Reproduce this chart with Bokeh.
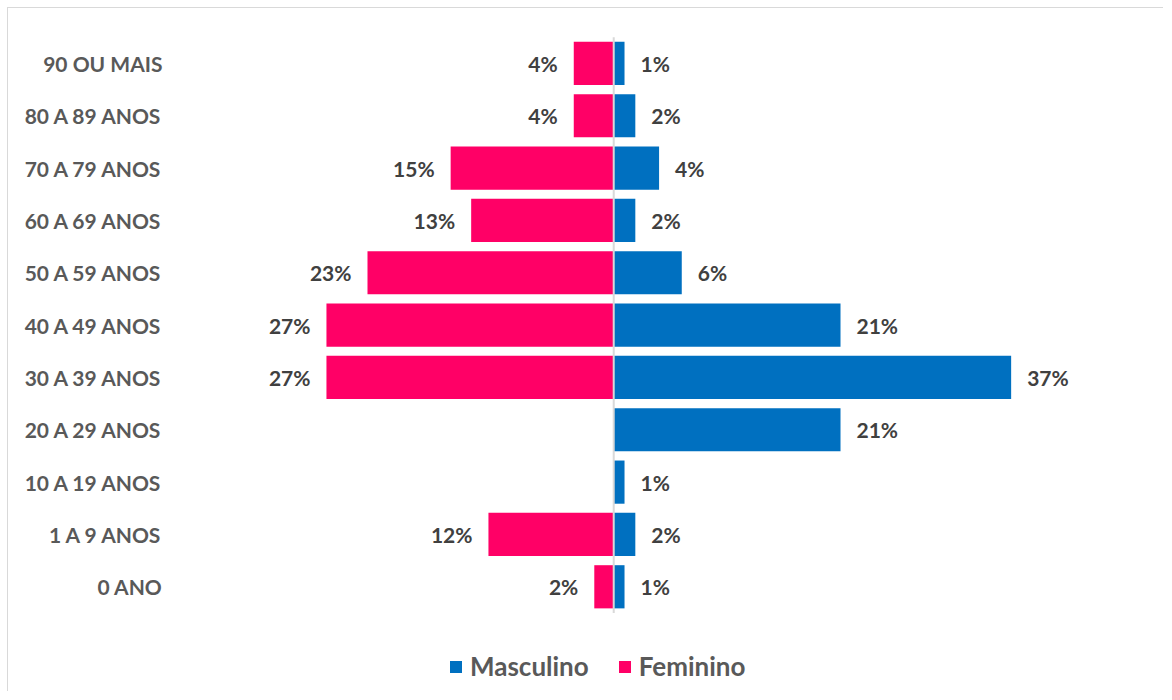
from bokeh.plotting import figure
from bokeh.models import ColumnDataSource, Range1d, FixedTicker, Legend, LegendItem
from bokeh.core.properties import value
from bokeh.embed import file_html
from bokeh.resources import INLINE

# Data (top row first, as displayed)
age_groups = ["90 OU MAIS", "80 A 89 ANOS", "70 A 79 ANOS", "60 A 69 ANOS", "50 A 59 ANOS",
              "40 A 49 ANOS", "30 A 39 ANOS", "20 A 29 ANOS", "10 A 19 ANOS", "1 A 9 ANOS", "0 ANO"]
masculino = [1.0, 2.0, 4.2, 2.0, 6.3, 21.0, 36.8, 21.0, 1.0, 2.0, 1.0]
feminino = [3.7, 3.7, 15.1, 13.2, 22.8, 26.6, 26.6, 0.0, 0.0, 11.6, 1.8]

BLUE = "#0070C0"
PINK = "#FF0066"
FONT = "Lato"

n = len(age_groups)
pos = [n - 1 - i for i in range(n)]  # row position: top row highest

p = figure(width=1156, height=684, output_backend="svg", toolbar_location=None,
           y_range=Range1d(-2.02, 11.05), x_range=Range1d(-40.3, 51.0),
           min_border_left=170, min_border_right=0, min_border_top=0, min_border_bottom=0)
p.styles = {"margin-left": "7px", "margin-top": "7px",
            "border-left": "1px solid #D9D9D9", "border-top": "1px solid #D9D9D9"}
p.outline_line_color = None
p.xaxis.visible = False
p.xgrid.grid_line_color = None
p.ygrid.grid_line_color = None

yax = p.yaxis[0]
yax.ticker = FixedTicker(ticks=pos)
yax.major_label_overrides = {pp: a for pp, a in zip(pos, age_groups)}
yax.axis_line_color = None
yax.major_tick_line_color = None
yax.minor_tick_line_color = None
yax.major_tick_out = 0
yax.major_tick_in = 0
yax.major_label_standoff = 16
yax.major_label_text_font = FONT
yax.major_label_text_font_style = "bold"
yax.major_label_text_font_size = "21px"
yax.major_label_text_color = "#595959"

src_m = ColumnDataSource(dict(y=pos, right=masculino,
                              lab=[f"{round(v)}%" for v in masculino]))
src_f = ColumnDataSource(dict(y=[pp for pp, v in zip(pos, feminino) if v > 0],
                              left=[-v for v in feminino if v > 0],
                              lab=[f"{round(v)}%" for v in feminino if v > 0]))

rm = p.hbar(y="y", left=0, right="right", height=0.825, source=src_m,
            fill_color=BLUE, line_color=None)
rf = p.hbar(y="y", left="left", right=0, height=0.825, source=src_f,
            fill_color=PINK, line_color=None)

# vertical axis line at zero across the category rows
p.segment(x0=[0], y0=[-0.5], x1=[0], y1=[n - 0.5], line_color="#D9D9D9", line_width=2)

p.text(x="right", y="y", text="lab", source=src_m, x_offset=16,
       text_align="left", text_baseline="middle", text_font=value(FONT),
       text_font_style="bold", text_font_size="21px", text_color="#404040")
p.text(x="left", y="y", text="lab", source=src_f, x_offset=-16,
       text_align="right", text_baseline="middle", text_font=value(FONT),
       text_font_style="bold", text_font_size="21px", text_color="#404040")

legend = Legend(items=[LegendItem(label="Masculino", renderers=[rm]),
                       LegendItem(label="Feminino", renderers=[rf])],
                orientation="horizontal", location=(270, 10), margin=0, padding=0,
                spacing=28, label_standoff=7, glyph_width=15, glyph_height=15,
                label_text_font=FONT, label_text_font_style="bold",
                label_text_font_size="26px", label_text_color="#595959",
                border_line_color=None, background_fill_alpha=0)
p.add_layout(legend, "center")

open("out.html", "w").write(file_html(p, INLINE))
